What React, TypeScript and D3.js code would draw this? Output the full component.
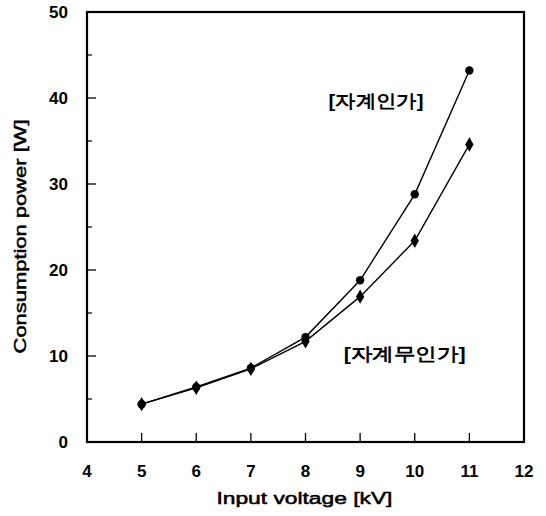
import * as d3 from "d3";

// input voltage [kV]
const voltages = [5, 6, 7, 8, 9, 10, 11];
// consumption power [W], with magnetic field applied
const withField = [4.4, 6.4, 8.6, 12.2, 18.8, 28.8, 43.2];
// consumption power [W], without magnetic field
const withoutField = [4.4, 6.3, 8.5, 11.7, 16.9, 23.4, 34.6];

const xTicks = [4, 5, 6, 7, 8, 9, 10, 11, 12];
const yTicks = [0, 10, 20, 30, 40, 50];
const yMinor = [5, 15, 25, 35, 45];

const width = 546;
const height = 516;
const margin = { top: 12, right: 22, bottom: 74, left: 87 };
const innerW = width - margin.left - margin.right;
const innerH = height - margin.top - margin.bottom;

const font = "'Liberation Sans', Arial, sans-serif";

export default function App() {
  const x = d3.scaleLinear().domain([4, 12]).range([0, innerW]);
  const y = d3.scaleLinear().domain([0, 50]).range([innerH, 0]);

  const line = d3
    .line<number>()
    .x((_, i) => x(voltages[i]))
    .y((d) => y(d));

  const diamond = d3.symbol().type(d3.symbolDiamond).size(60)();

  return (
    <svg
      width={width}
      height={height}
      style={{ position: "absolute", left: 0, top: 0, background: "#fff" }}
      fontFamily={font}
    >
      <g transform={`translate(${margin.left},${margin.top})`}>
        {/* inward ticks */}
        {yTicks.slice(1, -1).map((t) => (
          <line key={t} x1={0} x2={9} y1={y(t)} y2={y(t)} stroke="#000" strokeWidth={1.3} />
        ))}
        {yMinor.map((t) => (
          <line key={t} x1={0} x2={5} y1={y(t)} y2={y(t)} stroke="#000" strokeWidth={1.2} />
        ))}
        {xTicks.slice(1, -1).map((t) => (
          <line key={t} x1={x(t)} x2={x(t)} y1={innerH} y2={innerH - 9} stroke="#000" strokeWidth={1.3} />
        ))}

        <rect x={0} y={0} width={innerW} height={innerH} fill="none" stroke="#000" strokeWidth={2.2} />

        {/* tick labels */}
        {xTicks.map((t) => (
          <text key={t} x={x(t)} y={innerH + 35} textAnchor="middle" fontSize={17} fontWeight="bold">
            {t}
          </text>
        ))}
        {yTicks.map((t) => (
          <text key={t} x={-19} y={y(t)} dy="0.36em" textAnchor="end" fontSize={17} fontWeight="bold">
            {t}
          </text>
        ))}

        {/* series */}
        <path d={line(withField) ?? ""} fill="none" stroke="#000" strokeWidth={1.4} />
        <path d={line(withoutField) ?? ""} fill="none" stroke="#000" strokeWidth={1.4} />
        {withField.map((d, i) => (
          <circle key={i} cx={x(voltages[i])} cy={y(d)} r={4.2} fill="#000" />
        ))}
        {withoutField.map((d, i) => (
          <path key={i} d={diamond ?? ""} transform={`translate(${x(voltages[i])},${y(d)})`} fill="#000" />
        ))}

        {/* series labels */}
        <text
          x={x(8.42)}
          y={y(39.0)}
          fontSize={18}
          fontWeight="bold"
          textLength={95}
          lengthAdjust="spacingAndGlyphs"
        >
          [자계인가]
        </text>
        <text
          x={x(8.7)}
          y={y(9.5)}
          fontSize={18}
          fontWeight="bold"
          textLength={122}
          lengthAdjust="spacingAndGlyphs"
        >
          [자계무인가]
        </text>

        {/* axis titles */}
        <text
          x={x(7.98)}
          y={innerH + 62}
          textAnchor="middle"
          fontSize={16}
          stroke="#000"
          strokeWidth={0.5}
          textLength={176}
          lengthAdjust="spacingAndGlyphs"
        >
          Input voltage [kV]
        </text>
        <text
          transform={`translate(${-61},${y(23.9)}) rotate(-90)`}
          textAnchor="middle"
          fontSize={16}
          stroke="#000"
          strokeWidth={0.5}
          textLength={234}
          lengthAdjust="spacingAndGlyphs"
        >
          Consumption power [W]
        </text>
      </g>
    </svg>
  );
}
